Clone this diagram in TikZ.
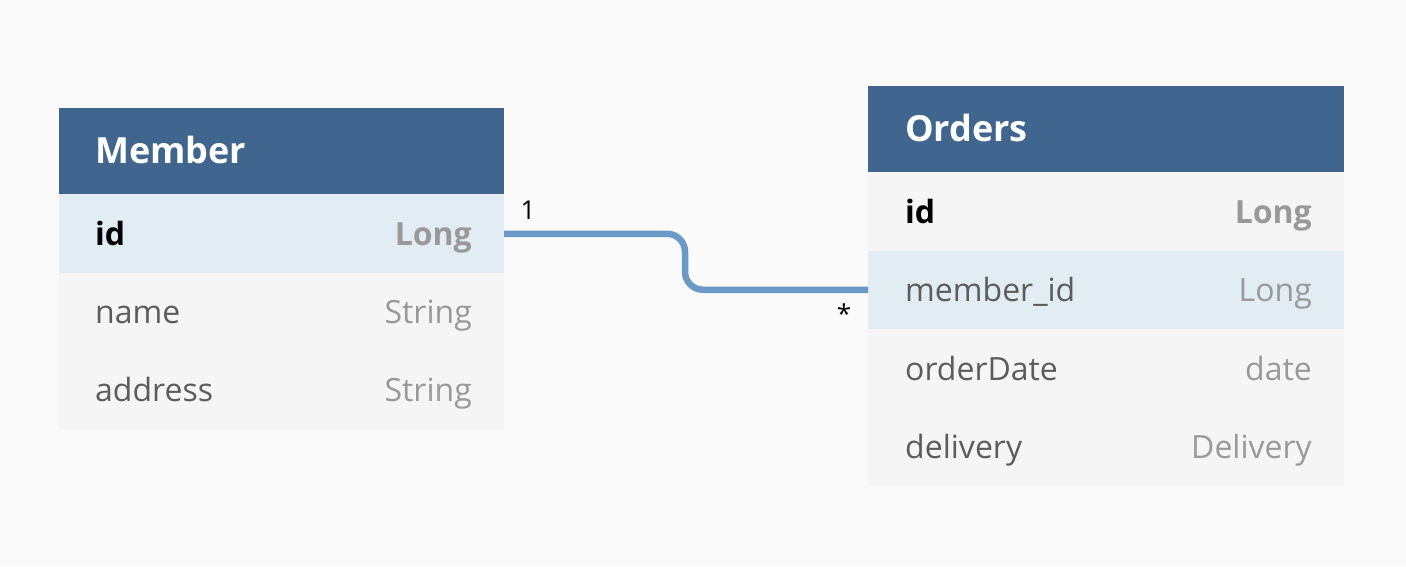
\documentclass[tikz,border=0pt]{standalone}
\usepackage{fontspec}
\setmainfont{Open Sans}
\definecolor{bgc}{HTML}{FAFAFA}
\definecolor{headc}{HTML}{40668F}
\definecolor{rowc}{HTML}{F5F5F5}
\definecolor{rowhl}{HTML}{E1ECF3}
\definecolor{namec}{HTML}{5C5C5C}
\definecolor{typec}{HTML}{999999}
\definecolor{linkc}{HTML}{6C9AC8}
\begin{document}
\begin{tikzpicture}[x=1pt,y=-1pt,
  cell/.style={rectangle, inner sep=0, outer sep=0, anchor=north west, draw=none},
  headbox/.style={cell, fill=headc, minimum height=86},
  rowbox/.style={cell, fill=rowc, minimum height=78.5},
  hlbox/.style={cell, fill=rowhl, minimum height=78.5},
  title/.style={anchor=base west, inner sep=0, text=white, font=\fontsize{36}{40}\selectfont\bfseries},
  fname/.style={anchor=base west, inner sep=0, text=namec, font=\fontsize{32}{38}\selectfont},
  ftype/.style={anchor=base east, inner sep=0, text=typec, font=\fontsize{32}{38}\selectfont},
  kname/.style={fname, text=black, font=\fontsize{32}{38}\selectfont\bfseries},
  ktype/.style={ftype, font=\fontsize{32}{38}\selectfont\bfseries},
  card/.style={inner sep=0, text=black, font=\fontsize{26}{30}\selectfont},
  link/.style={draw=linkc, line width=6.5pt, rounded corners=18pt}
]
\fill[bgc] (0,0) rectangle (1406,566);
\useasboundingbox (0,0) rectangle (1406,566);

% Member table
\node[headbox, minimum width=445] (mh) at (59,108) {};
\node[hlbox, minimum width=445] (mid) at (59,194) {};
\node[rowbox, minimum width=445] (mname) at (59,272.5) {};
\node[rowbox, minimum width=445] (maddr) at (59,351) {};
\node[title] (mht) at (95,163) {Member};
\node[kname] (midn) at (95,245) {id};
\node[ktype] (midt) at (472,245) {Long};
\node[fname] (mnn) at (95,323) {name};
\node[ftype] (mnt) at (472,323) {String};
\node[fname] (man) at (95,401.5) {address};
\node[ftype] (mat) at (472,401.5) {String};

% Orders table
\node[headbox, minimum width=476] (oh) at (868,86) {};
\node[rowbox, minimum width=476] (oid) at (868,172) {};
\node[hlbox, minimum width=476] (omid) at (868,250.5) {};
\node[rowbox, minimum width=476] (odate) at (868,329) {};
\node[rowbox, minimum width=476] (odel) at (868,407.5) {};
\node[title] (oht) at (905,141) {Orders};
\node[kname] (oidn) at (905,223) {id};
\node[ktype] (oidt) at (1312,223) {Long};
\node[fname] (omn) at (905,301.5) {member\_id};
\node[ftype] (omt) at (1312,301.5) {Long};
\node[fname] (odn) at (905,380) {orderDate};
\node[ftype] (odt) at (1312,380) {date};
\node[fname] (oln) at (905,458.5) {delivery};
\node[ftype] (olt) at (1312,458.5) {Delivery};

% connector
\draw[link] ([yshift=-0.5pt]mid.east) -- ++(181,0) |- (omid.west);
\node[card] (one) at (528,210) {1};
\node[card] (many) at (844,314) {*};
\end{tikzpicture}
\end{document}
